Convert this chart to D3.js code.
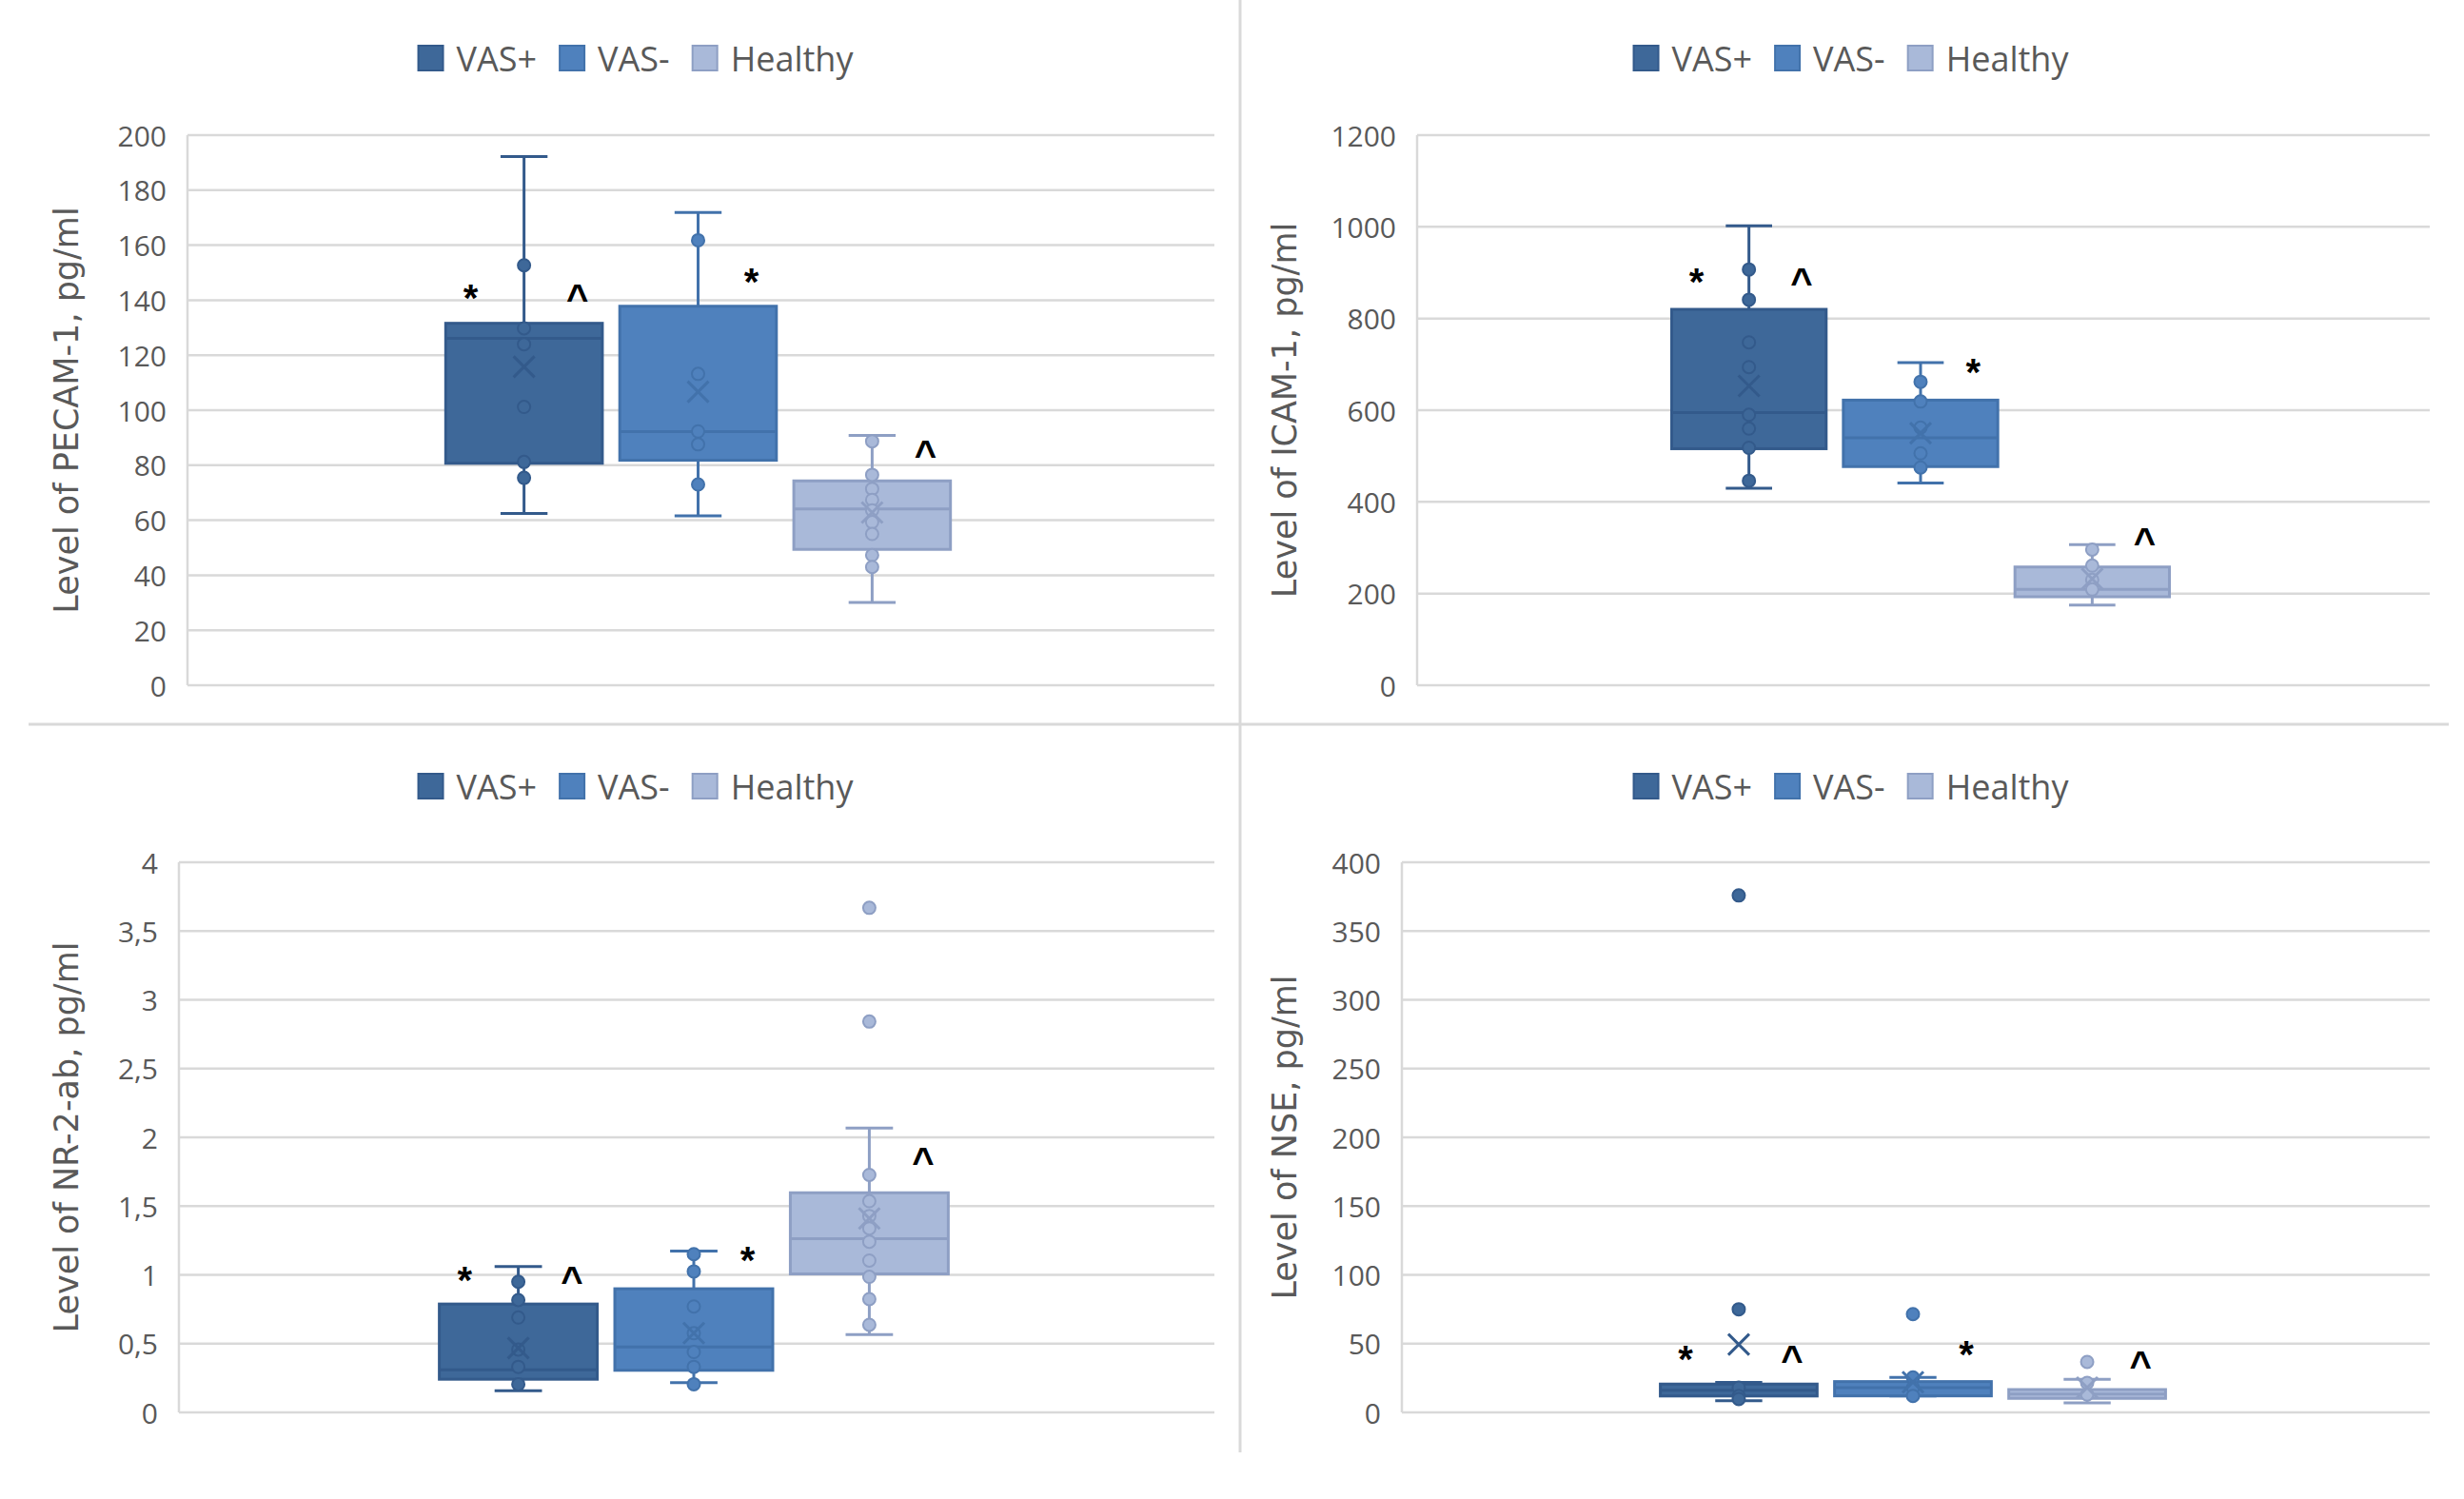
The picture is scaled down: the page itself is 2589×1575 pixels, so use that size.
<!DOCTYPE html>
<html>
<head>
<meta charset="utf-8">
<script src="https://cdn.jsdelivr.net/npm/d3@7"></script>
<style>
  body { margin: 0; background: #fff; }
  svg { display: block; }
  .tick-label { font-family: "Open Sans", sans-serif; font-size: 30px; fill: #595959; }
  .legend-label { font-family: "Open Sans", sans-serif; font-size: 36px; fill: #595959; }
  .axis-title { font-family: "DejaVu Sans", sans-serif; font-size: 35px; fill: #595959; }
  .mark { font-family: "Liberation Sans", Arial, sans-serif; font-size: 40px; font-weight: bold; fill: #000; }
</style>
</head>
<body>
<div id="chart"></div>
<script>
'use strict';

var SERIES = ['VAS+', 'VAS-', 'Healthy'];

// PECAM-1
var pecamTicks = [0, 20, 40, 60, 80, 100, 120, 140, 160, 180, 200];
var pecamStats = [
  { min: 62.5, q1: 80.7, median: 126.1, q3: 131.6, max: 192.2, mean: 115.8 },
  { min: 61.6, q1: 81.8, median: 92.2, q3: 137.8, max: 171.9, mean: 106.7 },
  { min: 30.1, q1: 49.4, median: 64.1, q3: 74.3, max: 90.8, mean: 62.8 }
];
var pecamPoints = [
  [152.7, 129.8, 124, 101.2, 81.2, 75.4],
  [161.8, 113.2, 92.3, 87.6, 73],
  [88.7, 76.5, 71.4, 67.4, 63.6, 59.3, 55, 47.3, 43]
];
var pecamMarks = [
  { series: 0, symbol: '*', side: -1, value: 142.5 },
  { series: 0, symbol: '^', side: 1, value: 142.5 },
  { series: 1, symbol: '*', side: 1, value: 148.5 },
  { series: 2, symbol: '^', side: 1, value: 86 }
];

// ICAM-1
var icamTicks = [0, 200, 400, 600, 800, 1000, 1200];
var icamStats = [
  { min: 430, q1: 516, median: 595, q3: 820, max: 1002, mean: 653 },
  { min: 441, q1: 477, median: 540, q3: 622, max: 704, mean: 550 },
  { min: 175, q1: 193, median: 209, q3: 258, max: 307, mean: 232 }
];
var icamPoints = [
  [907, 841, 748, 694, 590, 560, 518, 446],
  [662, 619, 562, 506, 475],
  [296, 261, 230, 209]
];
var icamMarks = [
  { series: 0, symbol: '*', side: -1, value: 892 },
  { series: 0, symbol: '^', side: 1, value: 892 },
  { series: 1, symbol: '*', side: 1, value: 694 },
  { series: 2, symbol: '^', side: 1, value: 325 }
];

// NR-2-ab
var nrTicks = [0, 0.5, 1, 1.5, 2, 2.5, 3, 3.5, 4];
var nrStats = [
  { min: 0.158, q1: 0.241, median: 0.309, q3: 0.788, max: 1.061, mean: 0.468 },
  { min: 0.216, q1: 0.306, median: 0.475, q3: 0.899, max: 1.173, mean: 0.576 },
  { min: 0.565, q1: 1.007, median: 1.263, q3: 1.597, max: 2.068, mean: 1.41 }
];
var nrPoints = [
  [0.95, 0.817, 0.69, 0.457, 0.331, 0.205],
  [1.151, 1.025, 0.77, 0.576, 0.439, 0.331, 0.205],
  [3.669, 2.842, 1.727, 1.536, 1.428, 1.338, 1.241, 1.104, 0.986, 0.824, 0.637]
];
var nrMarks = [
  { series: 0, symbol: '*', side: -1, value: 1.0 },
  { series: 0, symbol: '^', side: 1, value: 1.0 },
  { series: 1, symbol: '*', side: 1, value: 1.14 },
  { series: 2, symbol: '^', side: 1, value: 1.86 }
];

// NSE
var nseTicks = [0, 50, 100, 150, 200, 250, 300, 350, 400];
var nseStats = [
  { min: 8.5, q1: 11.9, median: 16.1, q3: 20.6, max: 21.8, mean: 49.4 },
  { min: 12, q1: 12, median: 18, q3: 22.4, max: 25.4, mean: 22 },
  { min: 6.9, q1: 10.2, median: 13.4, q3: 16.6, max: 24, mean: 18 }
];
var nsePoints = [
  [375.9, 75, 18, 11.9, 9.7],
  [71.5, 25.4, 18, 12],
  [36.7, 21.5, 13]
];
var nseMarks = [
  { series: 0, symbol: '*', side: -1, value: 42.4 },
  { series: 0, symbol: '^', side: 1, value: 42.4 },
  { series: 1, symbol: '*', side: 1, value: 46.1 },
  { series: 2, symbol: '^', side: 1, value: 38.3 }
];

// Constants for displaying. Unit is pixel.
var WIDTH = 2589;
var HEIGHT = 1575;
var FILL_COLOR = ['#3e6899', '#4f81bd', '#a9b9d9'];
var LINE_COLOR = ['#335a8b', '#4272ab', '#8e9fc4'];
var GRID_COLOR = '#d9d9d9';

var panels = [
  { title: 'Level of PECAM-1, pg/ml', ticks: pecamTicks, stats: pecamStats, points: pecamPoints, marks: pecamMarks,
    left: 197, right: 1276, top: 142, bottom: 720, legendX: 668, legendY: 61, titleX: 82 },
  { title: 'Level of ICAM-1, pg/ml', ticks: icamTicks, stats: icamStats, points: icamPoints, marks: icamMarks,
    left: 1489, right: 2553, top: 142, bottom: 720, legendX: 1945, legendY: 61, titleX: 1362 },
  { title: 'Level of NR-2-ab, pg/ml', ticks: nrTicks, stats: nrStats, points: nrPoints, marks: nrMarks,
    left: 188, right: 1276, top: 906, bottom: 1484, legendX: 668, legendY: 826, titleX: 82 },
  { title: 'Level of NSE, pg/ml', ticks: nseTicks, stats: nseStats, points: nsePoints, marks: nseMarks,
    left: 1473, right: 2553, top: 906, bottom: 1484, legendX: 1945, legendY: 826, titleX: 1362 }
];

var svg = d3.select('#chart').append('svg')
  .attr('width', WIDTH)
  .attr('height', HEIGHT);

svg.append('rect')
  .attr('width', WIDTH)
  .attr('height', HEIGHT)
  .attr('fill', '#fff');

// panel dividers
svg.append('line')
  .attr('x1', 30).attr('x2', 2573)
  .attr('y1', 761).attr('y2', 761)
  .attr('stroke', GRID_COLOR).attr('stroke-width', 3);
svg.append('line')
  .attr('x1', 1303).attr('x2', 1303)
  .attr('y1', 0).attr('y2', 1526)
  .attr('stroke', GRID_COLOR).attr('stroke-width', 3);

panels.forEach(drawPanel);

function formatTick(v) {
  return String(v).replace('.', ',');
}

function drawPanel(p) {
  var g = svg.append('g');
  var ticks = p.ticks;

  var y = d3.scaleLinear()
    .domain([ticks[0], ticks[ticks.length - 1]])
    .range([p.bottom, p.top]);

  // boxes sit a few px left of the plot centre in the original
  var x = d3.scaleBand()
    .domain(SERIES)
    .range([p.left - 3, p.right - 3])
    .paddingInner(0.1)
    .paddingOuter(1.5);
  var bw = x.bandwidth();

  // gridlines
  g.selectAll('line.grid')
    .data(ticks)
    .enter()
    .append('line')
    .attr('class', 'grid')
    .attr('x1', p.left).attr('x2', p.right)
    .attr('y1', function(d) { return y(d); })
    .attr('y2', function(d) { return y(d); })
    .attr('stroke', GRID_COLOR)
    .attr('stroke-width', 2.5);

  g.append('line')
    .attr('x1', p.left).attr('x2', p.left)
    .attr('y1', p.top).attr('y2', p.bottom)
    .attr('stroke', GRID_COLOR)
    .attr('stroke-width', 2.5);

  g.selectAll('text.tick-label')
    .data(ticks)
    .enter()
    .append('text')
    .attr('class', 'tick-label')
    .attr('x', p.left - 22)
    .attr('y', function(d) { return y(d); })
    .attr('text-anchor', 'end')
    .attr('dominant-baseline', 'central')
    .text(formatTick);

  SERIES.forEach(function(name, i) {
    var s = p.stats[i];
    var cx = x(name) + bw / 2;
    var capW = bw * 0.3;
    var sg = g.append('g');

    sg.append('line')
      .attr('x1', cx).attr('x2', cx)
      .attr('y1', y(s.max)).attr('y2', y(s.min))
      .attr('stroke', LINE_COLOR[i]).attr('stroke-width', 3);

    [s.max, s.min].forEach(function(v) {
      sg.append('line')
        .attr('x1', cx - capW / 2).attr('x2', cx + capW / 2)
        .attr('y1', y(v)).attr('y2', y(v))
        .attr('stroke', LINE_COLOR[i]).attr('stroke-width', 3);
    });

    sg.append('rect')
      .attr('x', x(name))
      .attr('y', y(s.q3))
      .attr('width', bw)
      .attr('height', Math.max(1, y(s.q1) - y(s.q3)))
      .attr('fill', FILL_COLOR[i])
      .attr('stroke', LINE_COLOR[i])
      .attr('stroke-width', 3);

    sg.append('line')
      .attr('x1', x(name)).attr('x2', x(name) + bw)
      .attr('y1', y(s.median)).attr('y2', y(s.median))
      .attr('stroke', LINE_COLOR[i]).attr('stroke-width', 3);

    sg.selectAll('circle')
      .data(p.points[i])
      .enter()
      .append('circle')
      .attr('cx', cx)
      .attr('cy', function(d) { return y(d); })
      .attr('r', 6.5)
      .attr('fill', FILL_COLOR[i])
      .attr('stroke', LINE_COLOR[i])
      .attr('stroke-width', 2);

    // mean marker
    var m = 11;
    var my = y(s.mean);
    sg.append('path')
      .attr('d', 'M' + (cx - m) + ',' + (my - m) + 'L' + (cx + m) + ',' + (my + m) +
                 'M' + (cx - m) + ',' + (my + m) + 'L' + (cx + m) + ',' + (my - m))
      .attr('stroke', LINE_COLOR[i])
      .attr('stroke-width', 3)
      .attr('fill', 'none');
  });

  // significance marks
  g.selectAll('text.mark')
    .data(p.marks)
    .enter()
    .append('text')
    .attr('class', 'mark')
    .attr('x', function(d) { return x(SERIES[d.series]) + bw / 2 + d.side * bw * 0.34; })
    .attr('y', function(d) { return y(d.value); })
    .attr('dy', '0.48em')
    .attr('text-anchor', 'middle')
    .text(function(d) { return d.symbol; });

  // legend
  var lg = g.append('g');
  var offset = 0;
  SERIES.forEach(function(name, i) {
    var item = lg.append('g').attr('transform', 'translate(' + offset + ',0)');
    item.append('rect')
      .attr('x', 0).attr('y', -13)
      .attr('width', 26).attr('height', 26)
      .attr('fill', FILL_COLOR[i])
      .attr('stroke', LINE_COLOR[i])
      .attr('stroke-width', 2);
    var t = item.append('text')
      .attr('class', 'legend-label')
      .attr('x', 40)
      .attr('y', 0)
      .attr('dominant-baseline', 'central')
      .text(name);
    offset += 40 + t.node().getComputedTextLength() + 24;
  });
  var legendW = offset - 24;
  lg.attr('transform', 'translate(' + (p.legendX - legendW / 2) + ',' + p.legendY + ')');

  // y axis title
  g.append('text')
    .attr('class', 'axis-title')
    .attr('transform', 'translate(' + p.titleX + ',' + ((p.top + p.bottom) / 2) + ') rotate(-90)')
    .attr('text-anchor', 'middle')
    .text(p.title);
}
</script>
</body>
</html>
